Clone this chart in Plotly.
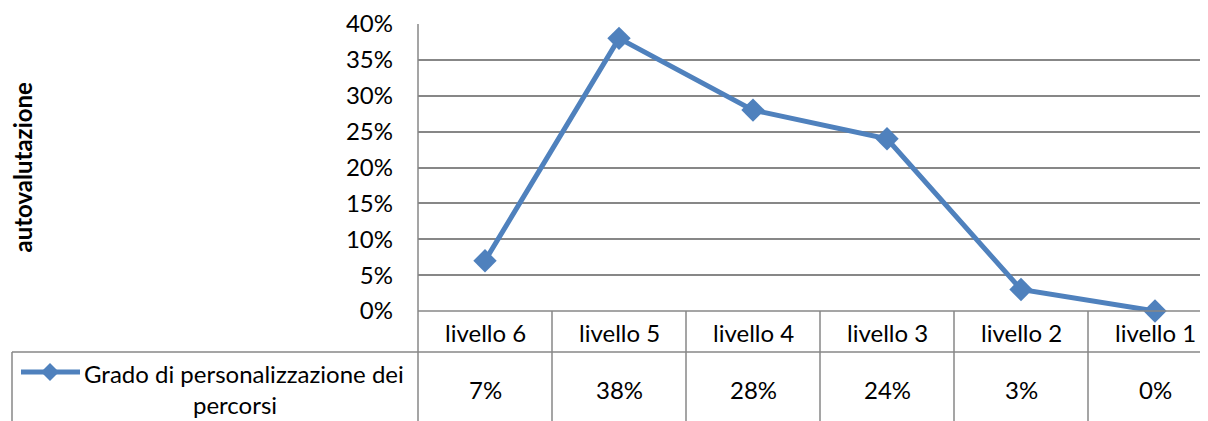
import plotly.graph_objects as go

categories = ["livello 6", "livello 5", "livello 4", "livello 3", "livello 2", "livello 1"]
values = [0.07, 0.38, 0.28, 0.24, 0.03, 0.00]
value_labels = ["7%", "38%", "28%", "24%", "3%", "0%"]
series_name_lines = ["Grado di personalizzazione dei", "percorsi"]
y_title = "autovalutazione"

OFF = 8  # page margin of the html body
W, H = 1208 - OFF, 421 - OFF
# plot area in page pixels
L, R, T, B = 418, 1208, 24, 311
FONT = "Lato"
FS = 24
GRID = "#878787"
BLUE = "#4F81BD"

def px(x):
    return (x - L) / (R - L)

def py(y):
    return (B - y) / (B - T)

xs = list(range(len(categories)))
fig = go.Figure()
fig.add_trace(go.Scatter(
    x=xs, y=values, mode="lines+markers",
    line=dict(color=BLUE, width=5),
    marker=dict(symbol="diamond", size=18, color=BLUE),
    showlegend=False, hoverinfo="skip", cliponaxis=False,
))

shapes = []
line_style = dict(color=GRID, width=1.5)
shapes.append(dict(type="line", xref="paper", yref="paper", x0=px(12), x1=1, y0=py(352), y1=py(352), line=line_style))
shapes.append(dict(type="line", xref="paper", yref="paper", x0=px(12), x1=px(12), y0=py(352), y1=py(430), line=line_style))
shapes.append(dict(type="line", xref="paper", yref="paper", x0=0, x1=0, y0=1, y1=py(430), line=line_style))
for i in range(1, len(categories)):
    shapes.append(dict(type="line", xref="x", yref="paper", x0=i - 0.5, x1=i - 0.5, y0=0, y1=py(430), line=line_style))
shapes.append(dict(type="line", xref="paper", yref="paper", x0=0, x1=1, y0=0, y1=0, line=line_style))
# legend key
shapes.append(dict(type="line", xref="paper", yref="paper", x0=px(21), x1=px(80), y0=py(372), y1=py(372), line=dict(color=BLUE, width=5)))
cx, cy, r = 50, 372, 9
shapes.append(dict(type="path", xref="paper", yref="paper",
                   path=f"M {px(cx - r)} {py(cy)} L {px(cx)} {py(cy - r)} L {px(cx + r)} {py(cy)} L {px(cx)} {py(cy + r)} Z",
                   fillcolor=BLUE, line=dict(color=BLUE, width=0)))

tf = dict(family=FONT, size=FS, color="#000")
annotations = []
for i, (c, v) in enumerate(zip(categories, value_labels)):
    annotations.append(dict(x=i, xref="x", y=py(332), yref="paper", text=c, showarrow=False,
                            font=tf, xanchor="center", yanchor="middle"))
    annotations.append(dict(x=i, xref="x", y=py(389), yref="paper", text=v, showarrow=False,
                            font=tf, xanchor="center", yanchor="middle"))
annotations.append(dict(x=px(82), xref="paper", y=py(373), yref="paper", text=series_name_lines[0], showarrow=False,
                        font=tf, xanchor="left", yanchor="middle"))
annotations.append(dict(x=px(235), xref="paper", y=py(404), yref="paper", text=series_name_lines[1], showarrow=False,
                        font=tf, xanchor="center", yanchor="middle"))
annotations.append(dict(x=px(22), xref="paper", y=0.5, yref="paper", text="<b>" + y_title + "</b>", showarrow=False,
                        textangle=-90, font=dict(family=FONT, size=24, color="#000"), xanchor="center", yanchor="middle"))

fig.update_layout(
    width=W, height=H,
    margin=dict(l=L - OFF, r=0, t=T - OFF, b=(421 - B), pad=0),
    paper_bgcolor="white", plot_bgcolor="white",
    shapes=shapes, annotations=annotations,
    xaxis=dict(range=[-0.5, -0.5 + (R - L) / 134.0], showticklabels=False, showgrid=False,
               zeroline=False, showline=False, tickvals=xs),
    yaxis=dict(range=[0, 0.4], dtick=0.05, tickformat=".0%", showgrid=True, gridcolor=GRID, gridwidth=1.5,
               zeroline=False, showline=False, ticks="", ticklabelstandoff=24,
               tickfont=tf),
)
fig.write_html("out.html")
